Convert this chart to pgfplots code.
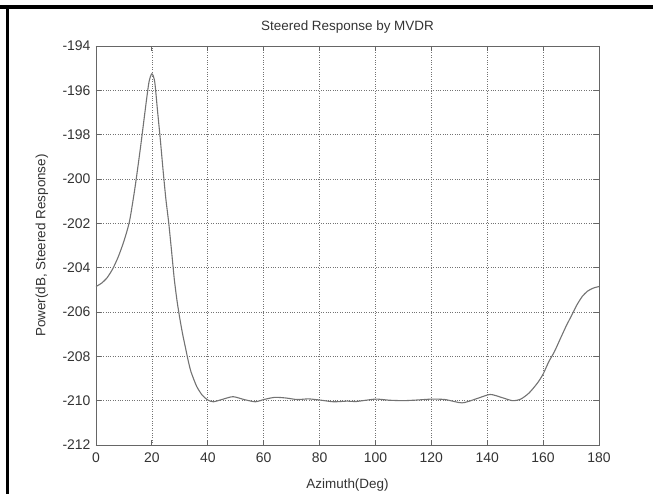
\documentclass[border=0pt]{standalone}
\usepackage{fontspec}
\setmainfont{Liberation Sans}
\usepackage{pgfplots}
\pgfplotsset{compat=1.18}
\begin{document}
\begin{tikzpicture}[x=1bp,y=1bp]
\begin{axis}[
  at={(0,0)}, anchor=south west,
  scale only axis,
  width=503bp, height=399bp,
  xmin=0, xmax=180, ymin=-212, ymax=-194,
  xtick={0,20,...,180},
  ytick={-212,-210,...,-194},
  tick align=inside,
  tick pos=both,
  major tick length=5bp,
  grid=major,
  major grid style={dotted, black!55, line width=0.7bp},
  axis line style={black!60, line width=0.9bp},
  every tick/.style={black!60, line width=0.9bp},
  /pgf/number format/assume math mode=true,
  /pgf/number format/set thousands separator={},
  ticklabel style={font=\fontsize{14}{16}\selectfont, text=black!80},
  xticklabel style={yshift=-4bp},
  yticklabel style={xshift=-2bp},
  title={Steered Response by MVDR},
  title style={at={(axis description cs:0.5,1.0326)}, anchor=center, font=\fontsize{13.5}{16}\selectfont, text=black!80},
  xlabel={Azimuth(Deg)},
  xlabel style={at={(axis description cs:0.5,-0.1003)}, anchor=center, font=\fontsize{13.5}{16}\selectfont, text=black!80},
  ylabel={Power(dB, Steered Response)},
  ylabel style={at={(axis description cs:-0.1074,0.5)}, anchor=center, font=\fontsize{13.5}{16}\selectfont, text=black!80},
]
\addplot[black!55, line width=1.1bp, smooth, tension=0.4] coordinates {
(0,-204.85) (2,-204.7) (4,-204.45) (6,-204.05) (8,-203.5) (10,-202.8)
(12,-201.9) (14,-200.35) (16,-198.5) (18,-196.5) (19,-195.6) (20,-195.25)
(21,-195.6) (22,-196.9) (23,-198.2) (24,-199.6) (25,-200.9) (26,-201.95)
(27,-203.2) (28,-204.5) (29,-205.5) (30,-206.3) (31,-207.0) (32,-207.6)
(33,-208.2) (34,-208.7) (36,-209.35) (38,-209.75) (40,-209.97) (42,-210.05)
(45,-209.95) (49,-209.82) (53,-209.95) (57,-210.05) (60,-209.95) (64,-209.85)
(68,-209.88) (72,-209.95) (76,-209.92) (80,-209.97) (85,-210.05) (90,-210.02)
(93,-210.04) (100,-209.93) (105,-209.98) (110,-210.0) (115,-209.97) (120,-209.93)
(125,-209.95) (131,-210.1) (136,-209.92) (141,-209.72) (145,-209.85) (149,-210.0)
(152,-209.93) (155,-209.65) (158,-209.2) (160,-208.8) (162,-208.25) (164,-207.8)
(166,-207.25) (168,-206.7) (170,-206.2) (172,-205.7) (174,-205.3) (176,-205.05)
(178,-204.92) (180,-204.85)
};
\end{axis}
\useasboundingbox (-96,-49) rectangle (557,445);
\fill[black] (-96,436) rectangle (557,439.5);
\fill[black] (-90,-49) rectangle (-86.5,439.5);
\end{tikzpicture}
\end{document}
